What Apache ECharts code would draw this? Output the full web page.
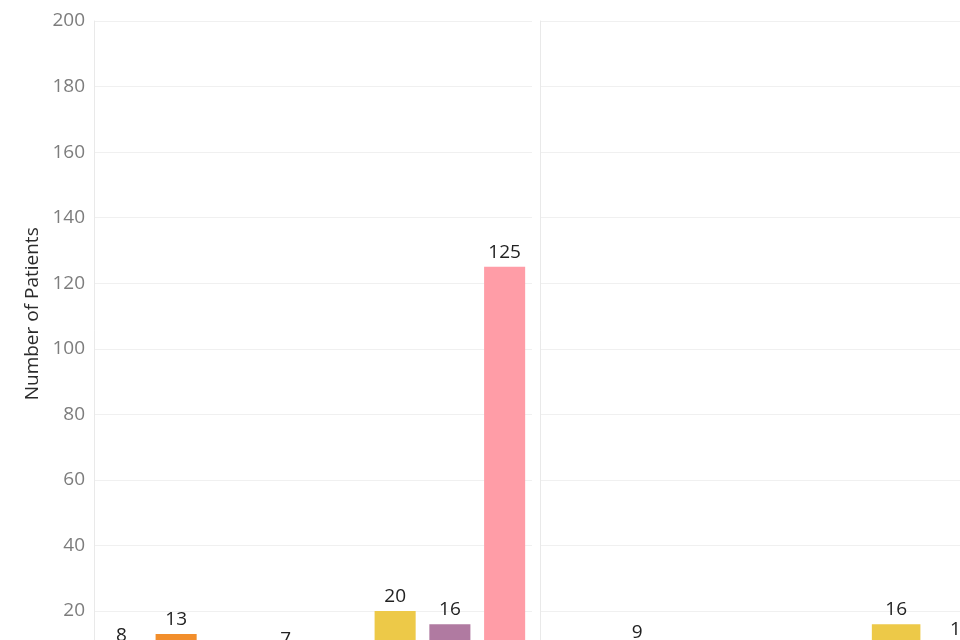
<!DOCTYPE html>
<html>
<head>
<meta charset="utf-8">
<script src="https://cdn.jsdelivr.net/npm/echarts@6/dist/echarts.min.js"></script>
<style>
html,body{margin:0;padding:0;background:#fff;}
#chart{width:960px;height:640px;}
</style>
</head>
<body>
<div id="chart"></div>
<script>
// Categories (x-axis labels lie below the visible area)
const leftCategories = ["Category 1","Category 2","Category 3","Category 4","Category 5","Category 6","Category 7","Category 8"];
const rightCategories = ["Category 1","Category 2","Category 3","Category 4","Category 5","Category 6","Category 7","Category 8"];
// Number of patients per category in each panel
const leftValues = [8, 13, null, 7, null, 20, 16, 125];
const rightValues = [null, 9, null, null, null, 16, 10, null];
// Y axis ticks
const yMin = 0, yMax = 200, yStep = 20;
// Tableau 10 palette, one colour per category
const palette = ["#4E79A7","#F28E2B","#E15759","#76B7B2","#59A14F","#EDC948","#B07AA1","#FF9DA7"];

const font = "'Open Sans', Lato, sans-serif";
const toItems = vals => vals.map((v, i) => ({ value: v, itemStyle: { color: palette[i % palette.length] } }));

const chart = echarts.init(document.getElementById('chart'), null, { renderer: 'canvas' });
const gridTop = 21, gridHeight = 655.6;
const commonY = {
  type: 'value', min: yMin, max: yMax, interval: yStep,
  axisTick: { show: false },
  axisLine: { show: true, lineStyle: { color: '#e9e9e9', width: 1 } },
  splitLine: { show: true, lineStyle: { color: '#f0f0f0', width: 1 } }
};
const commonX = {
  type: 'category',
  axisTick: { show: false },
  axisLabel: { show: false },
  axisLine: { show: false }
};
const labelCfg = { show: true, position: 'top', distance: 5, color: '#222', fontSize: 19, fontFamily: font };

chart.setOption({
  animation: false,
  backgroundColor: '#ffffff',
  grid: [
    { left: 94, top: gridTop, width: 438, height: gridHeight, outerBoundsMode: 'none', containLabel: false },
    { left: 540, top: gridTop, width: 518, height: gridHeight, outerBoundsMode: 'none', containLabel: false }
  ],
  xAxis: [
    Object.assign({ gridIndex: 0, data: leftCategories }, commonX),
    Object.assign({ gridIndex: 1, data: rightCategories }, commonX)
  ],
  yAxis: [
    Object.assign({
      gridIndex: 0,
      name: 'Number of Patients',
      nameLocation: 'middle',
      nameRotate: 90,
      nameGap: 52,
      nameTextStyle: { color: '#2b2b2b', fontSize: 19, fontFamily: font, padding: [0, 0, 0, 70] },
      axisLabel: { show: true, color: '#7d7d7d', fontSize: 19, fontFamily: font, margin: 9 }
    }, commonY),
    Object.assign({ gridIndex: 1, axisLabel: { show: false } }, commonY)
  ],
  series: [
    { type: 'bar', xAxisIndex: 0, yAxisIndex: 0, data: toItems(leftValues), barCategoryGap: '25%', label: labelCfg },
    { type: 'bar', xAxisIndex: 1, yAxisIndex: 1, data: toItems(rightValues), barCategoryGap: '25%', label: labelCfg }
  ]
});
</script>
</body>
</html>
